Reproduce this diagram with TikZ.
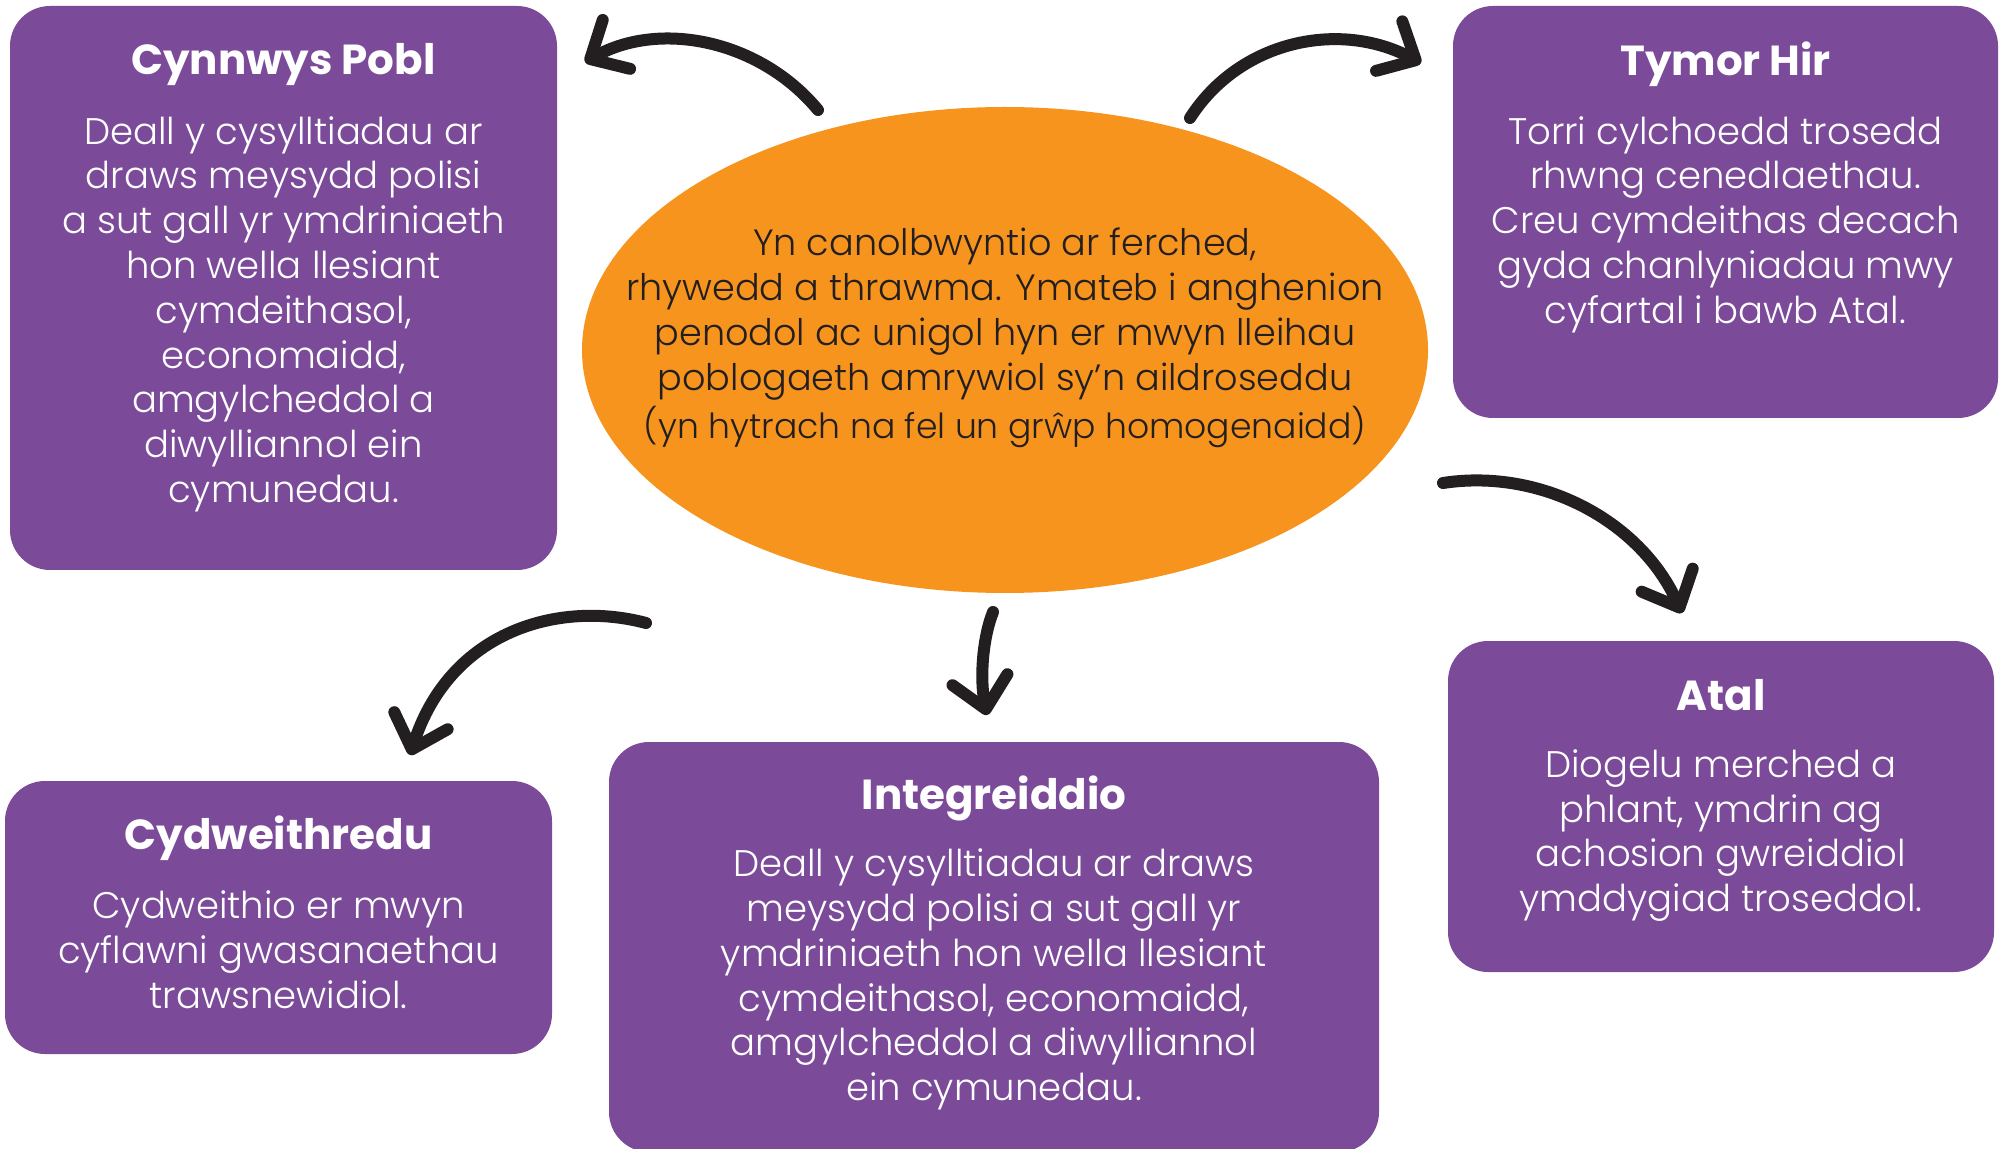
\documentclass[tikz,border=0pt]{standalone}
\usepackage{fontspec}
\setmainfont{Poppins Light}[BoldFont=Poppins Bold]
\usetikzlibrary{calc}
\usetikzlibrary{positioning}
\usetikzlibrary{shapes.geometric}
\usetikzlibrary{arrows.meta}
\definecolor{purp}{HTML}{7B4B9A}
\definecolor{orng}{HTML}{F7941E}
\definecolor{ink}{HTML}{231F20}
\tikzstyle{panel} = [fill=purp, rounded corners=20pt, inner sep=0pt]
\tikzstyle{hub} = [ellipse, fill=orng, inner sep=0pt, minimum width=423pt, minimum height=243pt]
\tikzstyle{ttl} = [text=white, font=\bfseries\fontsize{21}{25}\selectfont, align=center]
\tikzstyle{txt} = [text=white, font=\fontsize{18.5}{22.4}\selectfont, align=center]
\tikzstyle{curvearrow} = [draw=ink, line width=6pt, line cap=round, -{Straight Barb[length=15pt,width=28pt,round]}]

\begin{document}
\begin{tikzpicture}[x=0.5pt,y=-0.5pt]
    \useasboundingbox (0,0) rectangle (2002,1149);

    % centre
    \node[hub] (hub) at (1005,350) {};
    \node[text=ink, font=\fontsize{18.3}{22.6}\selectfont, align=center] (hub_t) at ($(hub)+(0,-36)$)
        {Yn canolbwyntio ar ferched,\\rhywedd a thrawma. Ymateb i anghenion\\penodol ac unigol hyn er mwyn lleihau\\poblogaeth amrywiol sy’n aildroseddu};
    \node[text=ink, font=\fontsize{17.3}{20}\selectfont] (hub_n) at ($(hub)+(0,77)$)
        {(yn hytrach na fel un grŵp homogenaidd)};

    % boxes
    \node[panel, minimum width=273.5pt, minimum height=282pt] (pobl) at (283.5,288) {};
    \node[ttl] (pobl_t) at ($(pobl.north)+(0,59)$) {Cynnwys Pobl};
    \node[txt] (pobl_b) at ($(pobl.north)+(0,308.5)$)
        {Deall y cysylltiadau ar\\draws meysydd polisi\\a sut gall yr ymdriniaeth\\hon wella llesiant\\cymdeithasol,\\economaidd,\\amgylcheddol a\\diwylliannol ein\\cymunedau.};

    \node[panel, minimum width=272.5pt, minimum height=206pt] (hir) at (1725.5,212) {};
    \node[ttl] (hir_t) at ($(hir.north)+(0,59)$) {Tymor Hir};
    \node[txt] (hir_b) at ($(hir.north)+(0,219)$)
        {Torri cylchoedd trosedd\\rhwng cenedlaethau.\\Creu cymdeithas decach\\gyda chanlyniadau mwy\\cyfartal i bawb Atal.};

    \node[panel, minimum width=273.5pt, minimum height=136.5pt] (cyd) at (278.5,917.5) {};
    \node[ttl] (cyd_t) at ($(cyd.north)+(0,58)$) {Cydweithredu};
    \node[txt] (cyd_b) at ($(cyd.north)+(0,169)$)
        {Cydweithio er mwyn\\cyflawni gwasanaethau\\trawsnewidiol.};

    \node[panel, minimum width=385pt, minimum height=205pt] (integ) at (994,947) {};
    \node[ttl] (integ_t) at ($(integ.north)+(0,57)$) {Integreiddio};
    \node[txt] (integ_b) at ($(integ.north)+(0,238)$)
        {Deall y cysylltiadau ar draws\\meysydd polisi a sut gall yr\\ymdriniaeth hon wella llesiant\\cymdeithasol, economaidd,\\amgylcheddol a diwylliannol\\ein cymunedau.};

    \node[panel, minimum width=273pt, minimum height=165.5pt] (atal) at (1721,806.5) {};
    \node[ttl] (atal_t) at ($(atal.north)+(0,55)$) {Atal};
    \node[txt] (atal_b) at ($(atal.north)+(0,195)$)
        {Diogelu merched a\\phlant, ymdrin ag\\achosion gwreiddiol\\ymddygiad troseddol.};

    % arrows
    \coordinate (a1s) at (818,110);
    \coordinate (a1e) at (585,62);
    \coordinate (a2s) at (1190,118);
    \coordinate (a2e) at (1421,63);
    \coordinate (a3s) at (1443,483);
    \coordinate (a3e) at (1682,613);
    \coordinate (a4s) at (646,623);
    \coordinate (a4e) at (410,755);
    \coordinate (a5s) at (993,612);
    \coordinate (a5e) at (987,715);

    \draw[curvearrow] (a1s) .. controls (760,40) and (660,20) .. (a1e);
    \draw[curvearrow] (a2s) .. controls (1240,40) and (1340,20) .. (a2e);
    \draw[curvearrow] (a3s) .. controls (1540,468) and (1640,520) .. (a3e);
    \draw[curvearrow] (a4s) .. controls (560,600) and (450,630) .. (a4e);
    \draw[curvearrow] (a5s) .. controls (982,640) and (980,680) .. (a5e);
\end{tikzpicture}
\end{document}
